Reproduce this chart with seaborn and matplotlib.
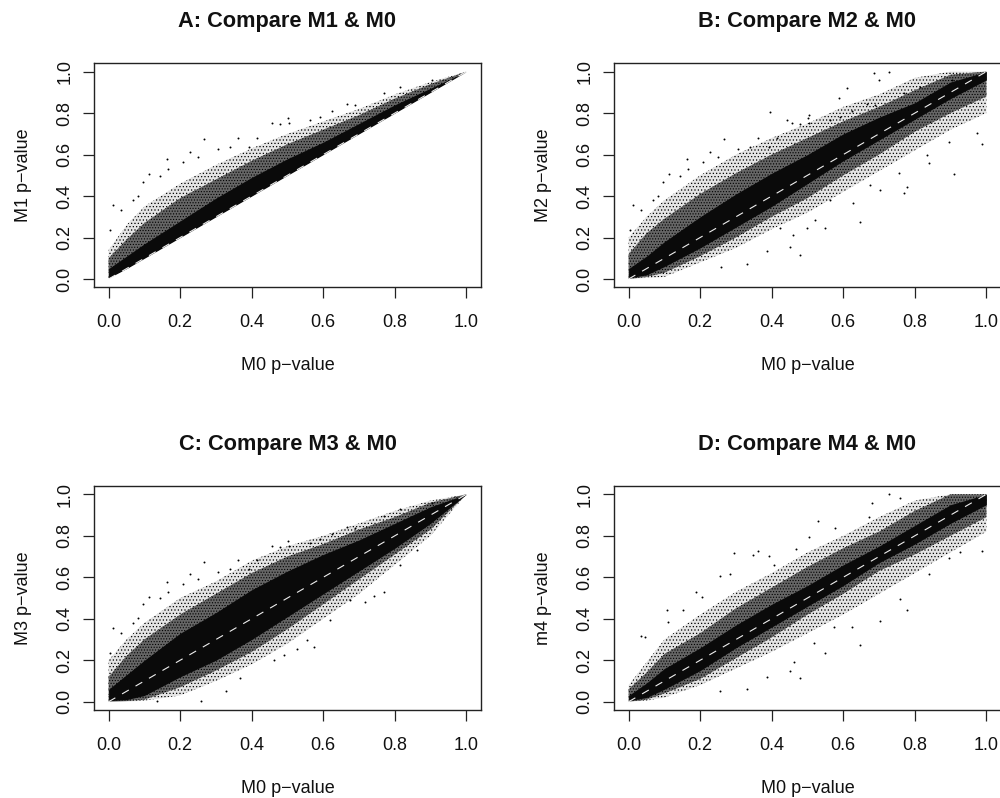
import matplotlib
matplotlib.use("Agg")
import matplotlib.pyplot as plt
import seaborn as sns
import pandas as pd

sns.set_theme(style="white")
plt.rcParams["font.family"] = ["Liberation Sans", "DejaVu Sans"]
plt.rcParams["hatch.linewidth"] = 0.5

# Envelopes of the point clouds at these M0 p-values
m0_grid = [0.0, 0.05, 0.1, 0.2, 0.3, 0.4, 0.5, 0.6, 0.7, 0.8, 0.9, 1.0]

a_core_lo = [0.005, 0.05, 0.10, 0.20, 0.30, 0.40, 0.50, 0.60, 0.70, 0.80, 0.90, 1.0]
a_core_hi = [0.05, 0.11, 0.17, 0.28, 0.39, 0.49, 0.58, 0.66, 0.75, 0.84, 0.92, 1.0]
a_mid_lo = [0.005, 0.05, 0.10, 0.20, 0.30, 0.40, 0.50, 0.60, 0.70, 0.80, 0.90, 1.0]
a_mid_hi = [0.10, 0.19, 0.27, 0.39, 0.48, 0.57, 0.65, 0.72, 0.79, 0.87, 0.94, 1.0]
a_out_lo = [0.005, 0.05, 0.10, 0.20, 0.30, 0.40, 0.50, 0.60, 0.70, 0.80, 0.90, 1.0]
a_out_hi = [0.14, 0.26, 0.35, 0.46, 0.55, 0.63, 0.70, 0.76, 0.82, 0.89, 0.95, 1.0]

b_core_lo = [0.005, 0.02, 0.06, 0.15, 0.25, 0.35, 0.46, 0.57, 0.67, 0.77, 0.87, 0.96]
b_core_hi = [0.05, 0.11, 0.18, 0.30, 0.41, 0.51, 0.60, 0.70, 0.78, 0.85, 0.95, 1.0]
b_mid_lo = [0.0, 0.01, 0.03, 0.11, 0.20, 0.30, 0.39, 0.50, 0.60, 0.71, 0.80, 0.88]
b_mid_hi = [0.12, 0.22, 0.29, 0.41, 0.51, 0.60, 0.68, 0.76, 0.83, 0.91, 0.985, 1.0]
b_out_lo = [0.0, 0.005, 0.01, 0.08, 0.15, 0.24, 0.32, 0.42, 0.52, 0.62, 0.72, 0.80]
b_out_hi = [0.20, 0.30, 0.38, 0.50, 0.60, 0.68, 0.75, 0.83, 0.89, 0.97, 1.0, 1.0]

c_core_lo = [0.005, 0.01, 0.03, 0.12, 0.20, 0.30, 0.41, 0.52, 0.63, 0.74, 0.86, 1.0]
c_core_hi = [0.06, 0.13, 0.20, 0.33, 0.43, 0.54, 0.63, 0.71, 0.78, 0.86, 0.94, 1.0]
c_mid_lo = [0.0, 0.003, 0.01, 0.07, 0.15, 0.24, 0.35, 0.47, 0.59, 0.71, 0.83, 1.0]
c_mid_hi = [0.12, 0.22, 0.30, 0.42, 0.52, 0.62, 0.70, 0.76, 0.83, 0.89, 0.96, 1.0]
c_out_lo = [0.0, 0.0, 0.005, 0.03, 0.10, 0.18, 0.28, 0.40, 0.52, 0.66, 0.80, 1.0]
c_out_hi = [0.20, 0.30, 0.38, 0.50, 0.58, 0.68, 0.75, 0.80, 0.86, 0.92, 0.97, 1.0]

d_core_lo = [0.005, 0.02, 0.06, 0.15, 0.26, 0.36, 0.46, 0.56, 0.67, 0.76, 0.86, 0.95]
d_core_hi = [0.03, 0.09, 0.16, 0.26, 0.37, 0.47, 0.56, 0.66, 0.75, 0.85, 0.95, 1.0]
d_mid_lo = [0.0, 0.01, 0.04, 0.11, 0.21, 0.31, 0.42, 0.52, 0.63, 0.71, 0.80, 0.89]
d_mid_hi = [0.06, 0.14, 0.23, 0.33, 0.45, 0.55, 0.65, 0.74, 0.82, 0.92, 1.0, 1.0]
d_out_lo = [0.0, 0.005, 0.02, 0.08, 0.16, 0.24, 0.33, 0.42, 0.52, 0.62, 0.72, 0.82]
d_out_hi = [0.08, 0.19, 0.30, 0.42, 0.53, 0.62, 0.72, 0.80, 0.89, 0.97, 1.0, 1.0]

# Individually legible outlying points
upper_x = [0.013, 0.004, 0.034, 0.069, 0.083, 0.097, 0.113, 0.144, 0.162, 0.167, 0.209, 0.228,
           0.267, 0.251, 0.307, 0.340, 0.361, 0.391, 0.414, 0.456, 0.479, 0.500, 0.503, 0.563,
           0.591, 0.624, 0.666, 0.689, 0.769, 0.815, 0.904]
upper_y = [0.357, 0.236, 0.333, 0.381, 0.402, 0.469, 0.505, 0.498, 0.579, 0.529, 0.566, 0.614,
           0.674, 0.590, 0.627, 0.638, 0.682, 0.638, 0.682, 0.751, 0.746, 0.775, 0.751, 0.767,
           0.783, 0.810, 0.844, 0.839, 0.895, 0.928, 0.960]

b_x = [0.259, 0.330, 0.479, 0.451, 0.388, 0.459, 0.424, 0.498, 0.549, 0.521, 0.647, 0.628, 0.563,
       0.703, 0.769, 0.778, 0.675, 0.910, 0.839, 0.988, 0.974, 0.895, 0.833, 0.755, 0.685, 0.727,
       0.610, 0.396, 0.442, 0.503, 0.587, 0.699] + upper_x
b_y = [0.059, 0.071, 0.116, 0.156, 0.135, 0.212, 0.244, 0.244, 0.244, 0.285, 0.277, 0.365, 0.381,
       0.429, 0.413, 0.445, 0.453, 0.506, 0.558, 0.650, 0.706, 0.662, 0.598, 0.510, 0.992, 1.000,
       0.920, 0.807, 0.767, 0.791, 0.871, 0.960] + upper_y

c_x = [0.259, 0.327, 0.134, 0.368, 0.461, 0.489, 0.526, 0.573, 0.554, 0.717, 0.741, 0.862, 0.815,
       0.769, 0.675, 0.619] + upper_x
c_y = [0.005, 0.053, 0.005, 0.113, 0.200, 0.225, 0.254, 0.265, 0.297, 0.479, 0.511, 0.731, 0.659,
       0.530, 0.490, 0.394] + upper_y

d_x = [0.036, 0.046, 0.106, 0.111, 0.153, 0.188, 0.204, 0.256, 0.284, 0.295, 0.349, 0.361, 0.391,
       0.405, 0.468, 0.503, 0.529, 0.577, 0.680, 0.727, 0.759, 0.671, 0.256, 0.330, 0.479, 0.451,
       0.388, 0.461, 0.549, 0.647, 0.624, 0.703, 0.778, 0.759, 0.839, 0.895, 0.988, 0.927, 0.573,
       0.517]
d_y = [0.317, 0.310, 0.442, 0.386, 0.442, 0.531, 0.506, 0.608, 0.616, 0.719, 0.707, 0.727, 0.703,
       0.659, 0.736, 0.793, 0.873, 0.836, 0.960, 1.000, 0.984, 0.892, 0.053, 0.061, 0.113, 0.148,
       0.117, 0.193, 0.233, 0.273, 0.362, 0.391, 0.442, 0.495, 0.616, 0.691, 0.728, 0.723, 0.362,
       0.281]

tick_values = [0.0, 0.2, 0.4, 0.6, 0.8, 1.0]
tick_labels = ["0.0", "0.2", "0.4", "0.6", "0.8", "1.0"]
ref_line = [0.0, 1.0]
titles = ["A: Compare M1 & M0", "B: Compare M2 & M0", "C: Compare M3 & M0", "D: Compare M4 & M0"]
y_labels = ["M1 p\u2212value", "M2 p\u2212value", "M3 p\u2212value", "m4 p\u2212value"]
x_label = "M0 p\u2212value"

panels = [
    (a_core_lo, a_core_hi, a_mid_lo, a_mid_hi, a_out_lo, a_out_hi, upper_x, upper_y),
    (b_core_lo, b_core_hi, b_mid_lo, b_mid_hi, b_out_lo, b_out_hi, b_x, b_y),
    (c_core_lo, c_core_hi, c_mid_lo, c_mid_hi, c_out_lo, c_out_hi, c_x, c_y),
    (d_core_lo, d_core_hi, d_mid_lo, d_mid_hi, d_out_lo, d_out_hi, d_x, d_y),
]
W, H = 1000, 798
boxes = [(94.3, 63.3), (614.3, 63.3), (94.3, 486.0), (614.3, 486.0)]
AW, AH = 386.4, 224.0
INK = "#222222"

fig = plt.figure(figsize=(W / 100, H / 100), dpi=100, facecolor="white")
for i, (box, p) in enumerate(zip(boxes, panels)):
    ax = fig.add_axes([box[0] / W, 1 - (box[1] + AH) / H, AW / W, AH / H])
    core_lo, core_hi, mid_lo, mid_hi, out_lo, out_hi, px, py = p
    ax.fill_between(m0_grid, out_lo, out_hi, facecolor="#e4e4e4", edgecolor="#000000",
                    hatch=".....", linewidth=0, zorder=1)
    ax.fill_between(m0_grid, mid_lo, mid_hi, facecolor="#666666", edgecolor="#000000",
                    hatch="......", linewidth=0, zorder=2)
    ax.fill_between(m0_grid, core_lo, core_hi, facecolor="#0a0a0a", linewidth=0, zorder=3)
    frame = pd.DataFrame({"m0": px, "m": py})
    sns.scatterplot(data=frame, x="m0", y="m", ax=ax, s=2.0, color="black", linewidth=0, zorder=4)
    sns.lineplot(x=ref_line, y=ref_line, ax=ax, color="#eeeeee", linewidth=0.8,
                 linestyle=(0, (7, 7)), zorder=5, errorbar=None)
    ax.set_xlim(-0.04, 1.04)
    ax.set_ylim(-0.04, 1.04)
    ax.set_xticks(tick_values, tick_labels, fontsize=13, color="#111111")
    ax.set_yticks(tick_values, tick_labels, fontsize=13, color="#111111", rotation=90, va="center")
    ax.tick_params(axis="both", length=8, width=0.9, color=INK, direction="out",
                   left=True, bottom=True)
    ax.tick_params(axis="x", pad=11.5)
    ax.tick_params(axis="y", pad=7)
    ax.grid(False)
    for s in ax.spines.values():
        s.set_color(INK)
        s.set_linewidth(1.0)
    ax.set_xlabel(x_label, fontsize=13, color="#111111", labelpad=18.5)
    ax.set_ylabel(y_labels[i], fontsize=13, color="#111111", labelpad=17.5)
    ax.set_title(titles[i], fontsize=15.7, fontweight="bold", color="#111111", pad=26)

fig.savefig("out.png", dpi=100)
